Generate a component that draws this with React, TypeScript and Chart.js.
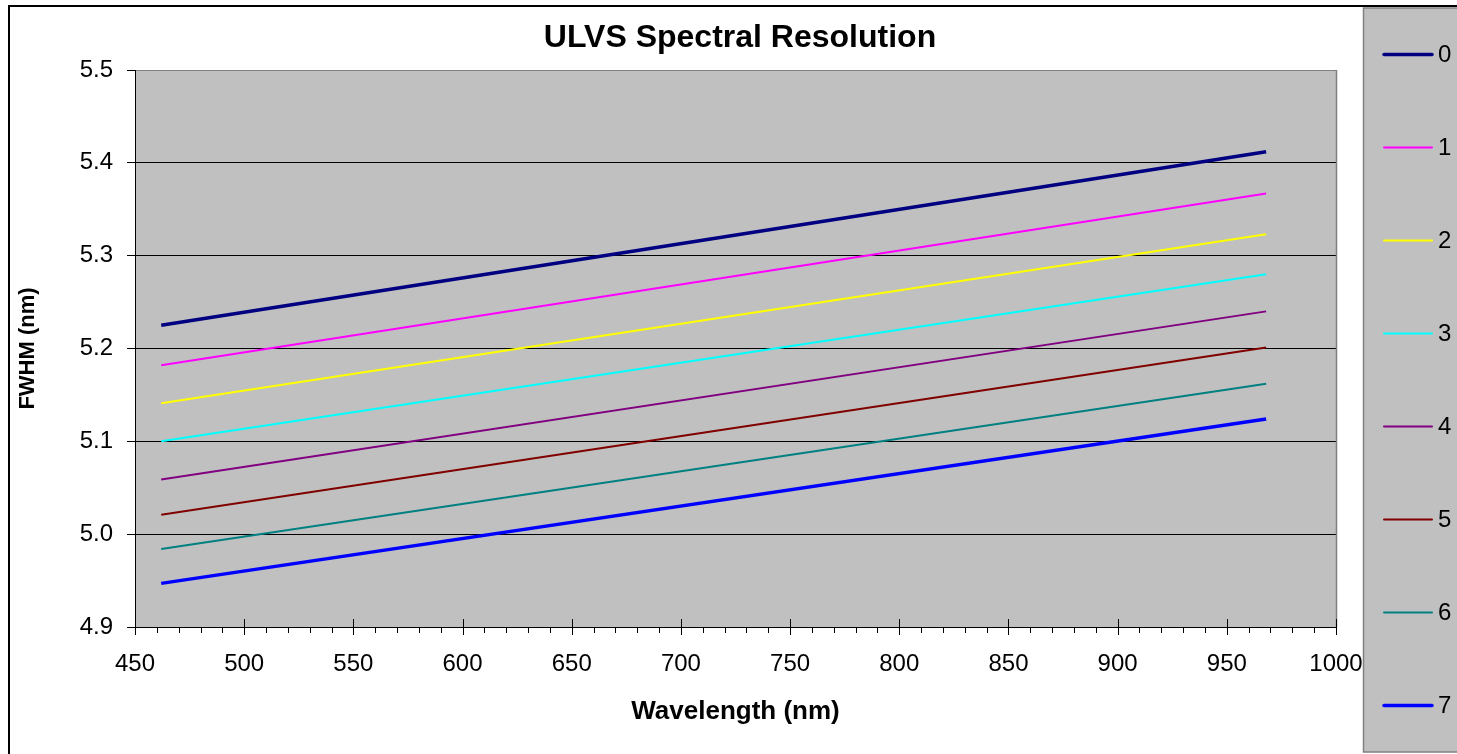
import React, { useEffect, useRef } from "react";
import { Chart, registerables } from "chart.js";

Chart.register(...registerables);

// ---- data ----
const wavelengthNm = [462, 968];
const seriesLabels = ["0", "1", "2", "3", "4", "5", "6", "7"];
const fwhm0 = [5.225, 5.412];
const fwhm1 = [5.182, 5.367];
const fwhm2 = [5.141, 5.323];
const fwhm3 = [5.1, 5.28];
const fwhm4 = [5.059, 5.24];
const fwhm5 = [5.021, 5.201];
const fwhm6 = [4.984, 5.162];
const fwhm7 = [4.947, 5.124];
const seriesValues = [fwhm0, fwhm1, fwhm2, fwhm3, fwhm4, fwhm5, fwhm6, fwhm7];

const xTickMin = 450;
const xTickMax = 1000;
const xTickStep = 50;
const xMinorStep = 10;
const yTickMin = 4.9;
const yTickMax = 5.5;
const yTickStep = 0.1;

const titleText = "ULVS Spectral Resolution";
const xTitle = "Wavelength (nm)";
const yTitle = "FWHM (nm)";

// ---- styles ----
const seriesColors = ["#000080", "#FF00FF", "#FFFF00", "#00FFFF", "#800080", "#800000", "#008080", "#0000FF"];
const seriesWidths = [3.5, 2, 2, 2, 2, 2, 2, 3.5];
const FONT = '"Liberation Sans", Arial, sans-serif';
const W = 1457;
const H = 754;

const decorPlugin = {
  id: "decor",
  beforeDraw(chart: any) {
    const { ctx, chartArea: a } = chart;
    ctx.save();
    ctx.fillStyle = "#ffffff";
    ctx.fillRect(0, 0, chart.width, chart.height);
    ctx.fillStyle = "#C0C0C0";
    ctx.fillRect(a.left, a.top, a.right - a.left, a.bottom - a.top);
    ctx.restore();
  },
  afterDraw(chart: any) {
    const { ctx, chartArea: a } = chart;
    const xs = chart.scales.x;
    ctx.save();
    // right border of plot area
    ctx.strokeStyle = "#808080";
    ctx.lineWidth = 1.5;
    ctx.beginPath();
    ctx.moveTo(Math.round(a.right) + 0.5, a.top);
    ctx.lineTo(Math.round(a.right) + 0.5, a.bottom);
    ctx.stroke();

    // x ticks (major crossing, minor outside)
    ctx.strokeStyle = "#000";
    ctx.lineWidth = 1;
    const b = Math.round(a.bottom);
    for (let v = xTickMin; v <= xTickMax; v += xMinorStep) {
      const px = Math.round(xs.getPixelForValue(v)) + 0.5;
      const major = (v - xTickMin) % xTickStep === 0;
      ctx.beginPath();
      ctx.moveTo(px, major ? b - 8 : b);
      ctx.lineTo(px, major ? b + 8 : b + 6);
      ctx.stroke();
    }

    // outer border
    ctx.strokeStyle = "#000";
    ctx.lineWidth = 2;
    ctx.strokeRect(9, 6, 2000, 2000);

    // legend box
    const lx = 1363.5, ly = 8, lb = 752;
    ctx.fillStyle = "#C0C0C0";
    ctx.fillRect(lx, ly, 300, lb - ly);
    ctx.strokeStyle = "#808080";
    ctx.lineWidth = 1.5;
    ctx.strokeRect(lx, ly, 300, lb - ly);

    const ds = chart.data.datasets;
    const step = (lb - ly) / ds.length;
    ctx.font = `24px ${FONT}`;
    ctx.textAlign = "left";
    ctx.textBaseline = "middle";
    ds.forEach((d: any, i: number) => {
      const y = ly + step * (i + 0.5);
      ctx.strokeStyle = d.borderColor;
      ctx.lineWidth = d.borderWidth;
      ctx.lineCap = "round";
      ctx.beginPath();
      ctx.moveTo(1384, y);
      ctx.lineTo(1432, y);
      ctx.stroke();
      ctx.fillStyle = "#000";
      ctx.fillText(d.label, 1438, y + 1);
    });

    // title
    ctx.fillStyle = "#000";
    ctx.font = `bold 32px ${FONT}`;
    ctx.textAlign = "center";
    ctx.textBaseline = "alphabetic";
    ctx.fillText(titleText, 740, 47);
    ctx.restore();
  },
};

export default function App() {
  const ref = useRef<HTMLCanvasElement | null>(null);

  useEffect(() => {
    if (!ref.current) return;
    const datasets = seriesLabels.map((label, i) => ({
      label,
      data: wavelengthNm.map((x, j) => ({ x, y: seriesValues[i][j] })),
      borderColor: seriesColors[i],
      backgroundColor: seriesColors[i],
      borderWidth: seriesWidths[i],
      pointRadius: 0,
      tension: 0,
      fill: false,
    }));

    const chart = new Chart(ref.current, {
      type: "line",
      data: { datasets },
      plugins: [decorPlugin],
      options: {
        animation: false,
        responsive: false,
        devicePixelRatio: 1,
        font: { family: FONT },
        layout: { padding: { left: 0, top: 70, right: W - 1336, bottom: 0 } },
        plugins: {
          legend: { display: false },
          title: { display: false },
          tooltip: { enabled: false },
        },
        scales: {
          x: {
            type: "linear",
            min: xTickMin,
            max: xTickMax,
            afterFit: (s: any) => {
              s.height = H - 627;
            },
            grid: { drawOnChartArea: false, drawTicks: false },
            border: { display: true, color: "#000", width: 1 },
            ticks: {
              stepSize: xTickStep,
              padding: 23,
              color: "#000",
              font: { family: FONT, size: 24 },
              maxRotation: 0,
              autoSkip: false,
              callback: (v: any) => String(v),
            },
            title: {
              display: true,
              text: xTitle,
              color: "#000",
              font: { family: FONT, size: 26, weight: "bold" },
              padding: { top: 0, bottom: 27 },
            },
          },
          y: {
            type: "linear",
            min: yTickMin,
            max: yTickMax,
            afterFit: (s: any) => {
              s.width = 135;
            },
            grid: {
              color: (c: any) =>
                c.tick && Math.abs(c.tick.value - yTickMax) < 1e-6 ? "#808080" : "#000",
              tickColor: "#000",
              tickLength: 8,
              lineWidth: 1,
            },
            border: { display: true, color: "#000", width: 1 },
            ticks: {
              stepSize: yTickStep,
              padding: 14,
              color: "#000",
              font: { family: FONT, size: 24 },
              callback: (v: any) => Number(v).toFixed(1),
            },
            title: {
              display: true,
              text: yTitle,
              color: "#000",
              font: { family: FONT, size: 22, weight: "bold" },
              padding: { top: 15, bottom: 0 },
            },
          },
        },
      } as any,
    });
    return () => chart.destroy();
  }, []);

  return (
    <div style={{ position: "absolute", left: 0, top: 0, width: W, height: H }}>
      <canvas ref={ref} width={W} height={H} style={{ display: "block", width: W, height: H }} />
    </div>
  );
}
